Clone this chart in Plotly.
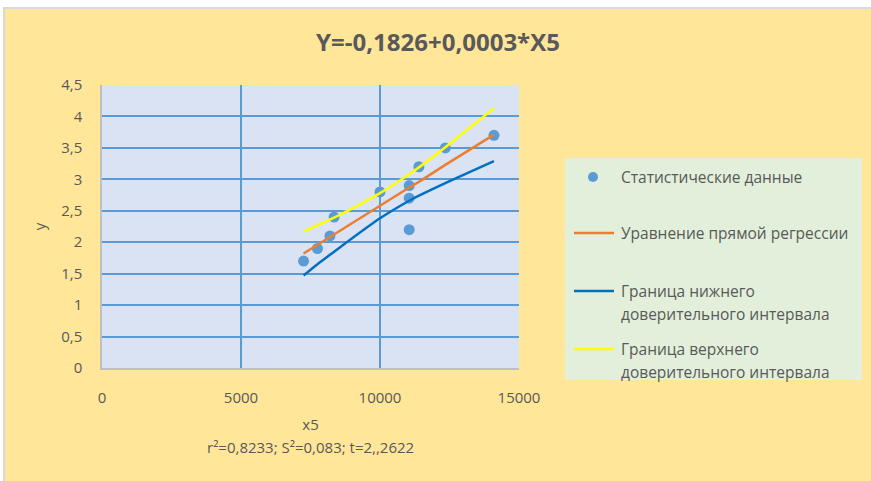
import plotly.graph_objects as go

# ---- data ----
x_data = [7250, 7750, 8200, 8350, 10000, 11050, 11050, 11050, 11400, 12350, 14100]
y_data = [1.7, 1.9, 2.1, 2.4, 2.8, 2.9, 2.7, 2.2, 3.2, 3.5, 3.7]

x_line = [7250, 7750, 8200, 8350, 10000, 11050, 11400, 12350, 14100]
y_reg = [1.82, 1.96, 2.08, 2.12, 2.58, 2.87, 2.96, 3.23, 3.71]
y_low = [1.47, 1.65, 1.80, 1.85, 2.38, 2.66, 2.74, 2.94, 3.29]
y_up = [2.17, 2.27, 2.36, 2.39, 2.78, 3.08, 3.19, 3.51, 4.13]

series_names = [
    "Статистические данные",
    "Уравнение прямой регрессии",
    "Граница нижнего<br>доверительного интервала",
    "Граница верхнего<br>доверительного интервала",
]
title_text = "Y=-0,1826+0,0003*X5"
x_title = "x5"
y_title = "y"
stats_text = "r²=0,8233; S²=0,083; t=2,,2622"

# ---- styling ----
W, H = 871, 481
L, R, T, B = 102, 352, 85, 113
PW, PH = W - L - R, H - T - B
FONT = "Open Sans"
TXT = "#595959"
BG = "#FFE699"
PLOT_BG = "#DAE3F3"
GRID = "#5B9BD5"
LEG_BG = "#E2EFDA"
C_PTS = "#5B9BD5"
C_REG = "#ED7D31"
C_LOW = "#0070C0"
C_UP = "#FFFF00"


def px(xp):
    return (xp - L) / PW


def py(yp):
    return (H - B - yp) / PH


fig = go.Figure()
fig.add_trace(go.Scatter(x=x_data, y=y_data, mode="markers", name=series_names[0],
                         marker=dict(color=C_PTS, size=11)))
fig.add_trace(go.Scatter(x=x_line, y=y_reg, mode="lines", name=series_names[1],
                         line=dict(color=C_REG, width=2.5)))
fig.add_trace(go.Scatter(x=x_line, y=y_low, mode="lines", name=series_names[2],
                         line=dict(color=C_LOW, width=2.5, shape="spline", smoothing=0.8)))
fig.add_trace(go.Scatter(x=x_line, y=y_up, mode="lines", name=series_names[3],
                         line=dict(color=C_UP, width=2.5, shape="spline", smoothing=0.8)))

shapes = []
annotations = []

# window border (white + gray edge at top and left)
shapes.append(dict(type="rect", xref="paper", yref="paper", x0=px(0), x1=px(W), y0=py(0), y1=py(7),
                   fillcolor="white", line_width=0, layer="below"))
shapes.append(dict(type="rect", xref="paper", yref="paper", x0=px(3), x1=px(W), y0=py(7), y1=py(9),
                   fillcolor="#D9D9D9", line_width=0, layer="below"))
shapes.append(dict(type="rect", xref="paper", yref="paper", x0=px(0), x1=px(3), y0=py(H), y1=py(0),
                   fillcolor="white", line_width=0, layer="below"))
shapes.append(dict(type="rect", xref="paper", yref="paper", x0=px(3), x1=px(5), y0=py(H), y1=py(7),
                   fillcolor="#D9D9D9", line_width=0, layer="below"))

# legend box
shapes.append(dict(type="rect", xref="paper", yref="paper", x0=px(565), x1=px(862), y0=py(380), y1=py(158),
                   fillcolor=LEG_BG, line_width=0, layer="below"))
# legend symbols
shapes.append(dict(type="circle", xref="paper", yref="paper", x0=px(588), x1=px(598), y0=py(182), y1=py(172),
                   fillcolor=C_PTS, line_width=0))
for yy, col in [(233, C_REG), (291, C_LOW), (349, C_UP)]:
    shapes.append(dict(type="line", xref="paper", yref="paper", x0=px(574), x1=px(614), y0=py(yy), y1=py(yy),
                       line=dict(color=col, width=2.5)))

leg_lines = [
    (177, series_names[0]),
    (233, series_names[1]),
    (291, series_names[2].split("<br>")[0]),
    (314, series_names[2].split("<br>")[1]),
    (349, series_names[3].split("<br>")[0]),
    (372, series_names[3].split("<br>")[1]),
]
for yy, t in leg_lines:
    annotations.append(dict(xref="paper", yref="paper", x=px(619), y=py(yy), text=t, showarrow=False,
                            xanchor="left", yanchor="middle", font=dict(family=FONT, size=15.5, color=TXT)))

# stats line under x-axis title
annotations.append(dict(xref="paper", yref="paper", x=px(310), y=py(447), text=stats_text, showarrow=False,
                        xanchor="center", yanchor="middle", font=dict(family=FONT, size=15, color=TXT)))

fig.update_layout(
    width=W, height=H,
    margin=dict(l=L, r=R, t=T, b=B, pad=0),
    paper_bgcolor=BG,
    plot_bgcolor=PLOT_BG,
    separators=", ",
    showlegend=False,
    font=dict(family=FONT, color=TXT, size=15),
    title=dict(text="<b>" + title_text + "</b>", x=438 / W, y=1 - 43 / H, xanchor="center", yanchor="middle",
               font=dict(family=FONT, size=24, color=TXT)),
    xaxis=dict(range=[0, 15000], dtick=5000, tick0=0, showgrid=True, gridcolor=GRID, gridwidth=1.8,
               zeroline=False, showline=True, linecolor="#BFBFBF", linewidth=1.5,
               ticks="outside", ticklen=15, tickcolor="rgba(0,0,0,0)", tickformat="d",
               tickfont=dict(family=FONT, size=15, color=TXT),
               title=dict(text=x_title, standoff=14, font=dict(family=FONT, size=15, color=TXT))),
    yaxis=dict(range=[0, 4.5], dtick=0.5, tick0=0, showgrid=True, gridcolor=GRID, gridwidth=1.8,
               zeroline=False, showline=True, linecolor="#BFBFBF", linewidth=1.5,
               ticks="outside", ticklen=15, tickcolor="rgba(0,0,0,0)",
               tickfont=dict(family=FONT, size=15, color=TXT),
               title=dict(text=y_title, standoff=12, font=dict(family=FONT, size=15, color=TXT))),
    shapes=shapes,
    annotations=annotations,
)

fig.write_html(
    "out.html",
    config={"displayModeBar": False},
    post_script="document.body.style.margin='0';document.body.style.padding='0';"
                "document.documentElement.style.overflow='hidden';document.body.style.background='" + BG + "';",
)
